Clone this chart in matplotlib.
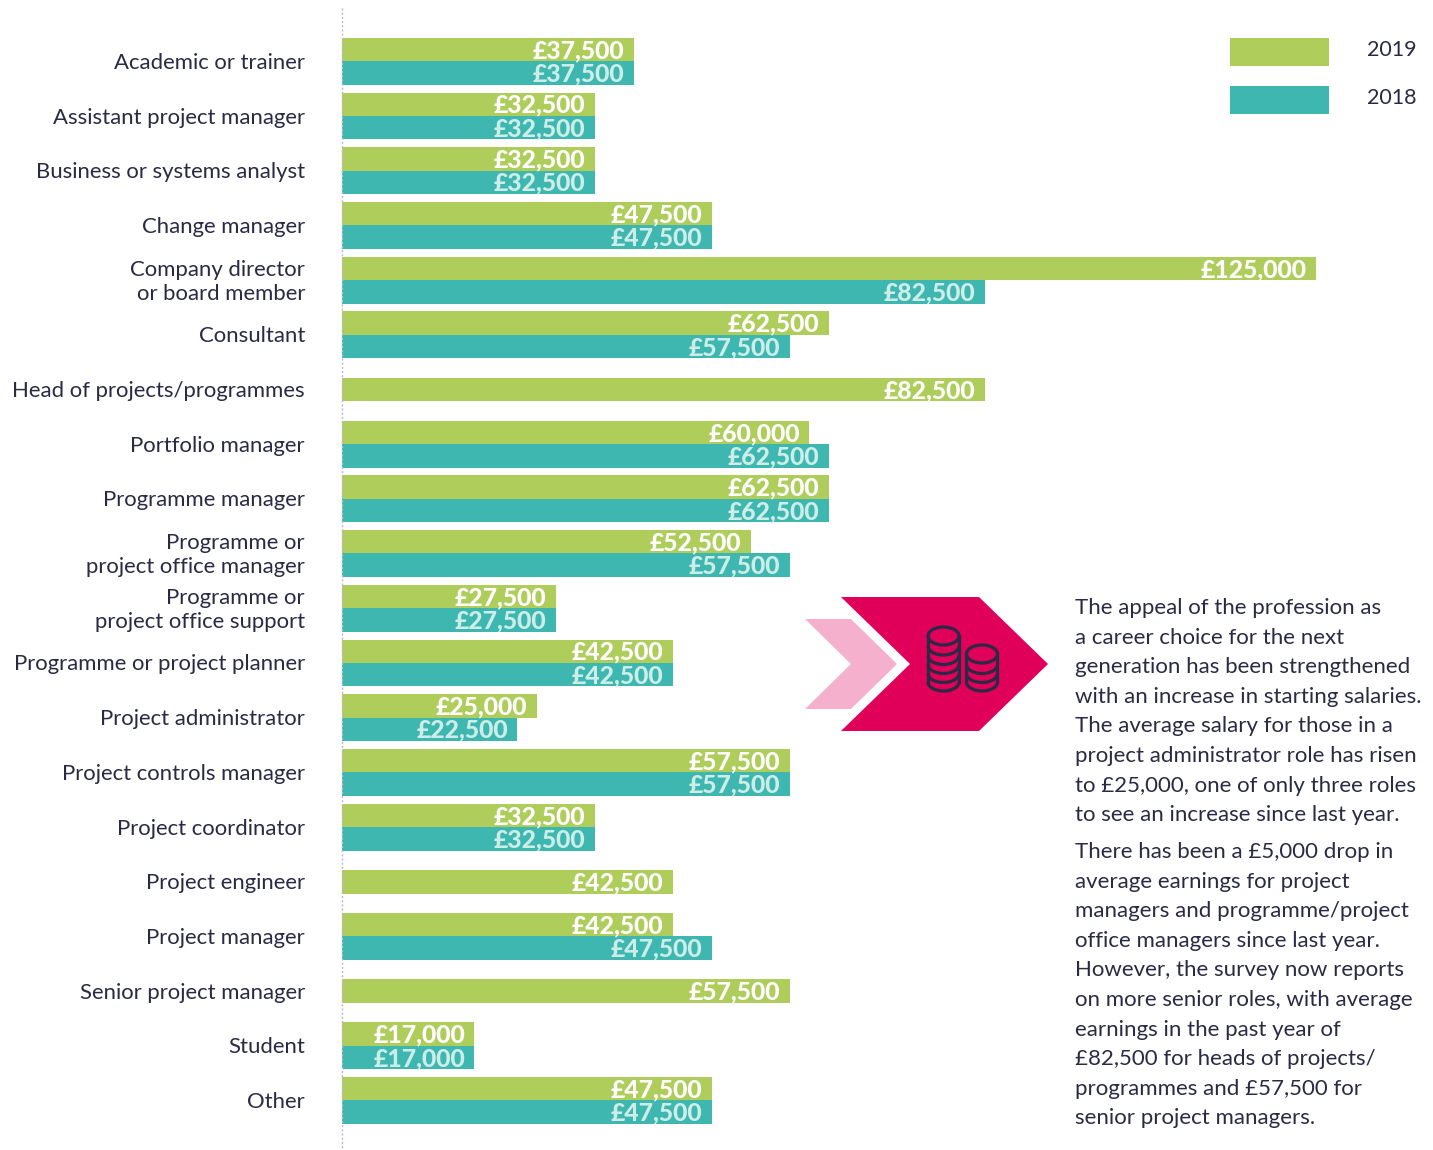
import numpy as np
import matplotlib
matplotlib.use("Agg")
import matplotlib.pyplot as plt
from matplotlib.patches import Polygon, Rectangle, Ellipse, Arc

plt.rcParams['font.family'] = ['Lato', 'DejaVu Sans']

categories = ["Academic or trainer", "Assistant project manager", "Business or systems analyst",
              "Change manager", "Company director\nor board member", "Consultant",
              "Head of projects/programmes", "Portfolio manager", "Programme manager",
              "Programme or\nproject office manager", "Programme or\nproject office support",
              "Programme or project planner", "Project administrator", "Project controls manager",
              "Project coordinator", "Project engineer", "Project manager",
              "Senior project manager", "Student", "Other"]
vals_2019 = [37500, 32500, 32500, 47500, 125000, 62500, 82500, 60000, 62500, 52500,
             27500, 42500, 25000, 57500, 32500, 42500, 42500, 57500, 17000, 47500]
vals_2018 = [37500, 32500, 32500, 47500, 82500, 57500, None, 62500, 62500, 57500,
             27500, 42500, 22500, 57500, 32500, None, 47500, None, 17000, 47500]

para1 = ["The appeal of the profession as", "a career choice for the next",
         "generation has been strengthened", "with an increase in starting salaries.",
         "The average salary for those in a", "project administrator role has risen",
         "to £25,000, one of only three roles", "to see an increase since last year."]
para2 = ["There has been a £5,000 drop in", "average earnings for project",
         "managers and programme/project", "office managers since last year.",
         "However, the survey now reports", "on more senior roles, with average",
         "earnings in the past year of", "£82,500 for heads of projects/",
         "programmes and £57,500 for", "senior project managers."]

GREEN = '#AECD5A'
TEAL = '#3DB7B0'
DARK = '#2A2A45'
PINK = '#E0005A'
LIGHTPINK = '#F5B0CE'
W, H = 1433, 1150

fig = plt.figure(figsize=(W/100, H/100), dpi=100, facecolor='white')

# bars: full figure axes, data scale set so that 0 sits on the dotted line
ax = fig.add_axes([0, 0, 1, 1])
px_per_gbp = 0.00779
px_per_cat = 54.7
ax.set_xlim(-342/px_per_gbp, (W-342)/px_per_gbp)
ax.set_ylim((H-61.3)/px_per_cat, -61.3/px_per_cat)
ax.axis('off')

off, bh = 0.213, 0.43
lab_dy = 1.5 / px_per_cat
val_dy = -1 / px_per_cat
for i, (v19, v18) in enumerate(zip(vals_2019, vals_2018)):
    ax.text(-37/px_per_gbp, i + lab_dy, categories[i], ha='right', va='center', fontsize=15.9,
            color=DARK, linespacing=1.24)
    y19 = i if v18 is None else i - off
    ax.barh(y19, v19, height=bh, color=GREEN, linewidth=0)
    ax.text(v19 - 9.5/px_per_gbp, y19 + val_dy, f"£{v19:,}", ha='right', va='center_baseline', fontsize=17.8,
            fontweight='black', color='white')
    if v18 is not None:
        ax.barh(i + off, v18, height=bh, color=TEAL, linewidth=0)
        ax.text(v18 - 9.5/px_per_gbp, i + off + val_dy, f"£{v18:,}", ha='right', va='center_baseline', fontsize=17.8,
                fontweight='black', color='#CDEDE9')

# everything else in pixel coords
ov = fig.add_axes([0, 0, 1, 1], facecolor='none')
ov.set_xlim(0, W)
ov.set_ylim(H, 0)
ov.axis('off')

ov.plot([342, 342], [8, 1150], color='#B9B4DC', lw=1, ls=(0, (1.5, 1.5)))

# legend
ov.add_patch(Rectangle((1230, 38), 99, 28, color=GREEN, lw=0))
ov.add_patch(Rectangle((1230, 86), 99, 28, color=TEAL, lw=0))
ov.text(1367, 50, "2019", va='center', fontsize=15.5, color=DARK)
ov.text(1367, 98, "2018", va='center', fontsize=15.5, color=DARK)

# chevrons
ov.add_patch(Polygon([(805, 619), (851, 619), (897, 664), (851, 709), (805, 709), (851, 664)],
                     color=LIGHTPINK, lw=0))
ov.add_patch(Polygon([(841, 597), (979, 597), (1048, 664), (979, 731), (841, 731), (910, 664)],
                     color=PINK, lw=0))

# coins
def coins(cx, ytop, edges, rx=15.5, ry=9):
    ov.add_patch(Ellipse((cx, ytop), 2*rx, 2*ry, fill=False, ec=DARK, lw=2.3))
    for e in edges:
        ov.add_patch(Arc((cx, e - ry), 2*rx, 2*ry, theta1=0, theta2=180, ec=DARK, lw=2.3))
    ov.plot([cx-rx, cx-rx], [ytop, edges[-1]-ry], color=DARK, lw=2.3)
    ov.plot([cx+rx, cx+rx], [ytop, edges[-1]-ry], color=DARK, lw=2.3)

coins(943.5, 636, [655, 664.5, 673.5, 682.5, 691])
coins(982, 654, [673.5, 682.5, 691])

for j, line in enumerate(para1):
    ov.text(1075, 608 + j*29.6, line, va='center', fontsize=16, color=DARK)
for j, line in enumerate(para2):
    ov.text(1075, 852 + j*29.6, line, va='center', fontsize=16, color=DARK)

fig.savefig('out.png', dpi=100)
